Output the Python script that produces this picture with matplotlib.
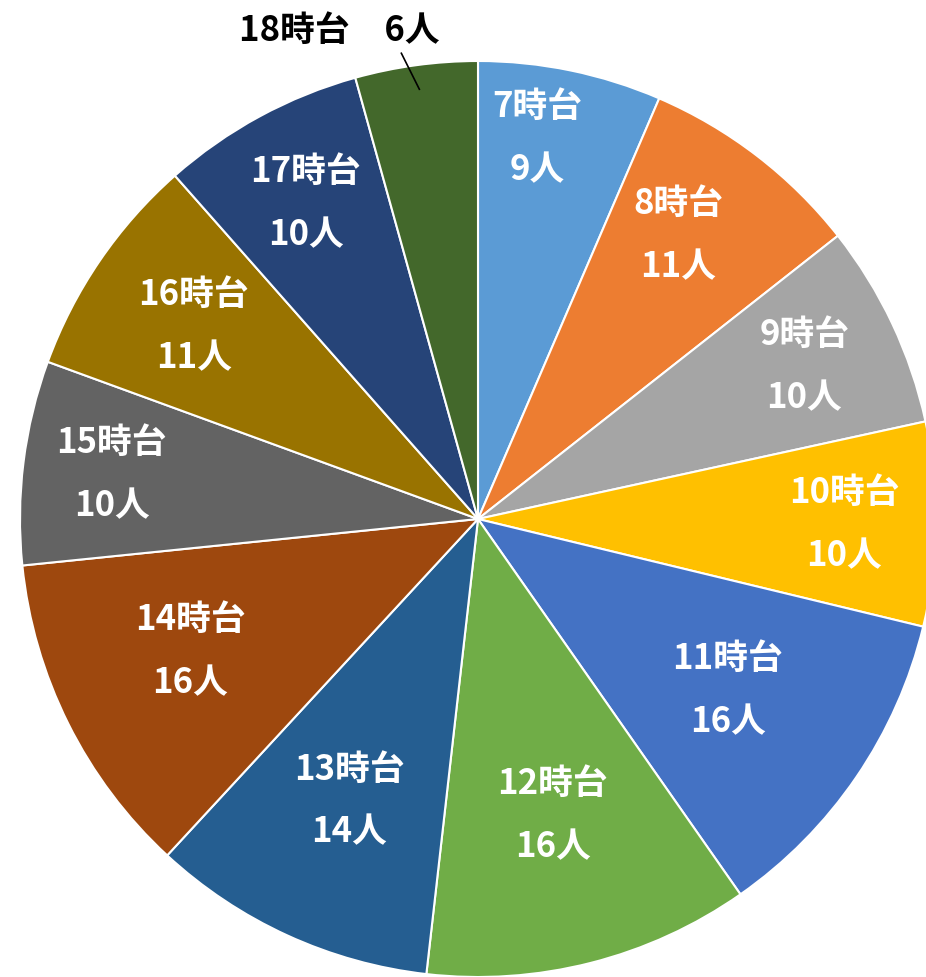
import numpy as np
import matplotlib
matplotlib.use("Agg")
import matplotlib.pyplot as plt

plt.rcParams['font.family'] = ['Noto Sans CJK JP', 'DejaVu Sans']

hours = ["7時台", "8時台", "9時台", "10時台", "11時台", "12時台",
         "13時台", "14時台", "15時台", "16時台", "17時台", "18時台"]
counts = [9, 11, 10, 10, 16, 16, 14, 16, 10, 11, 10, 6]
colors = ["#5B9BD5", "#ED7D31", "#A5A5A5", "#FFC000", "#4472C4", "#70AD47",
          "#255E91", "#9E480E", "#636363", "#997300", "#264478", "#43682B"]
# label placement (radius fraction, angle tweak in degrees)
label_r = [0.844, 0.76, 0.788, 0.80, 0.66, 0.664, 0.674, 0.69, 0.806, 0.751, 0.788, None]
label_da = [2.8, 2.5, 0, 0, 0, 0, 0, -2.0, 0, 0, 0, 0]

W, H = 926, 978
fig = plt.figure(figsize=(W / 100, H / 100), dpi=100)
ax = fig.add_axes([0, 0, 1, 1])
R = 458.0
cx, cy = 478.0, 520.0

wedges, _ = ax.pie(counts, colors=colors, startangle=90, counterclock=False,
                   radius=1.0, wedgeprops=dict(edgecolor='white', linewidth=1.5))

total = sum(counts)
cum = 0
FS = 25
for i, (h, c) in enumerate(zip(hours, counts)):
    mid = cum + c / 2
    cum += c
    ang = np.deg2rad(90 - mid / total * 360 + label_da[i])
    if label_r[i] is None:
        x0, y0 = 0.947 * np.cos(ang), 0.947 * np.sin(ang)
        x1, y1 = x0 - 18 / R, y0 + 36 / R
        ax.plot([x0, x1], [y0, y1], color='black', lw=1.2)
        ax.text(x1 - 62 / R, y1 + 24 / R, f"{h}　{c}人", ha='center', va='center',
                fontsize=FS, fontweight='bold', color='black')
        continue
    r = label_r[i]
    x, y = r * np.cos(ang), r * np.sin(ang)
    d = 31.5 / R
    ax.text(x, y + d, h, ha='center', va='center', fontsize=FS,
            fontweight='bold', color='white')
    ax.text(x, y - d, f"{c}人", ha='center', va='center', fontsize=FS,
            fontweight='bold', color='white')

ax.set_xlim(-cx / R, (W - cx) / R)
ax.set_ylim(-(H - cy) / R, cy / R)
ax.set_aspect('equal')
ax.axis('off')

fig.savefig("out.png", dpi=100)
